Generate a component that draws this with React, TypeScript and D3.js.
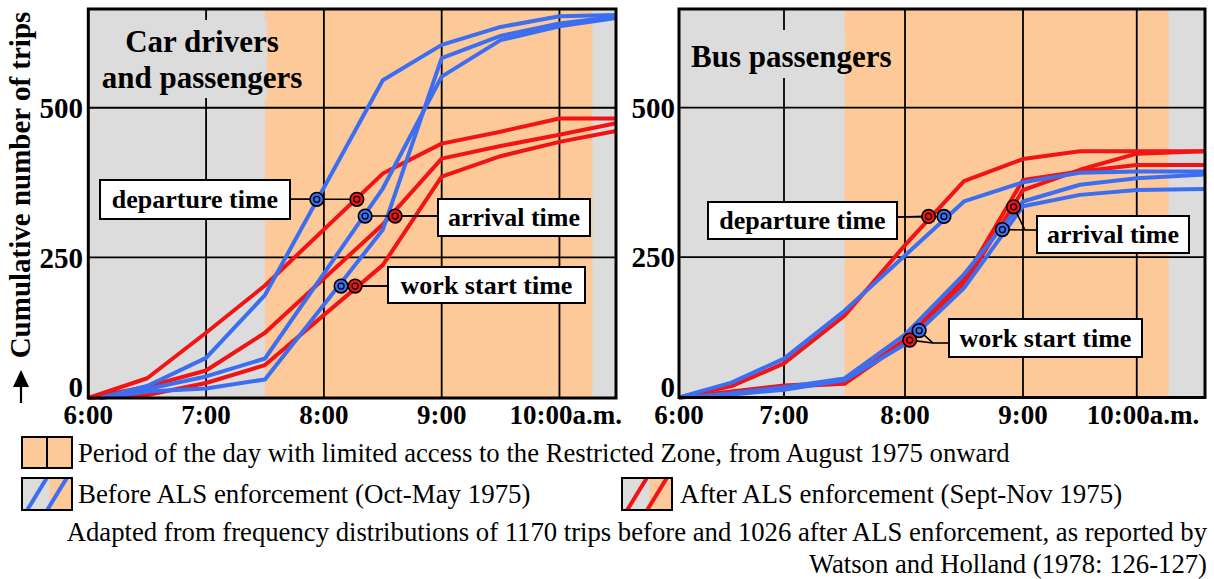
import React from "react";
import * as d3 from "d3";

type Pt = [number, number];

// Time of day in decimal hours, cumulative number of trips
const hourTicks = [6, 7, 8, 9, 10];
const hourTickLabels = ["6:00", "7:00", "8:00", "9:00", "10:00a.m."];
const tripTicks = [0, 250, 500];
const restrictedPeriod: [number, number] = [7.5, 10.28];

// Car drivers and passengers
const carBeforeDeparture: Pt[] = [[6.1, 0], [6.5, 35], [7, 82], [7.5, 187], [8.5, 546], [9, 605], [9.5, 635], [10, 653], [10.48, 655]];
const carBeforeArrival: Pt[] = [[6.1, 0], [6.5, 30], [7, 51], [7.5, 81], [8.5, 365], [9, 552], [9.5, 613], [10, 636], [10.48, 650]];
const carBeforeWork: Pt[] = [[6.1, 0], [6.5, 26], [7, 31], [7.5, 46], [8.5, 296], [9, 583], [9.5, 620], [10, 641], [10.48, 652]];
const carAfterDeparture: Pt[] = [[6, 0], [6.5, 48], [7, 124], [7.5, 203], [8.5, 390], [9, 440], [9.5, 460], [10, 482], [10.48, 482]];
const carAfterArrival: Pt[] = [[6, 0], [6.5, 34], [7, 61], [7.5, 124], [8.5, 305], [9, 415], [9.5, 436], [10, 455], [10.48, 474]];
const carAfterWork: Pt[] = [[6, 0], [6.5, 20], [7, 40], [7.5, 70], [8.5, 237], [9, 385], [9.5, 419], [10, 443], [10.48, 461]];

// Bus passengers
const busBeforeDeparture: Pt[] = [[6, 0], [6.5, 40], [7, 80], [7.5, 160], [8.5, 343], [9, 375], [9.5, 391], [10, 393], [10.6, 393]];
const busBeforeArrival: Pt[] = [[6.25, 18], [6.5, 22], [7, 32], [7.5, 47], [8, 120], [8.5, 221], [9, 343], [9.5, 371], [10, 382], [10.6, 388]];
const busBeforeWork: Pt[] = [[6, 0], [6.5, 20], [7, 28], [7.5, 44], [8, 104], [8.5, 198], [9, 335], [9.5, 354], [10, 362], [10.6, 364]];
const busAfterDeparture: Pt[] = [[6, 0], [6.5, 34], [7, 72], [7.5, 152], [8, 270], [8.5, 377], [9, 414], [9.5, 427], [10, 427], [10.6, 427]];
const busAfterArrival: Pt[] = [[6, 0], [6.5, 25], [7, 35], [7.5, 40], [8, 112], [8.5, 212], [9, 379], [9.5, 393], [10, 404], [10.6, 404]];
const busAfterWork: Pt[] = [[6, 0], [6.5, 22], [7, 33], [7.5, 38], [8, 108], [8.5, 204], [9, 362], [9.5, 396], [10, 423], [10.6, 427]];

// Points picked out on each curve: departure, arrival, work start
const markerLabels = ["departure time", "arrival time", "work start time"];
const carMarkersBefore: Pt[] = [[7.94, 347], [8.35, 319], [8.146, 202]];
const carMarkersAfter: Pt[] = [[8.28, 347], [8.605, 319], [8.265, 202]];
const busMarkersBefore: Pt[] = [[8.33, 318], [8.825, 296], [8.12, 127]];
const busMarkersAfter: Pt[] = [[8.2, 318], [8.92, 334], [8.04, 111]];

const legendPeriod = "Period of the day with limited access to the Restricted Zone, from August 1975 onward";
const legendBefore = "Before ALS enforcement (Oct-May 1975)";
const legendAfter = "After ALS enforcement (Sept-Nov 1975)";
const sourceLines = [
  "Adapted from frequency distributions of 1170 trips before and 1026 after ALS enforcement, as reported by",
  "Watson and Holland (1978: 126-127)",
];

// ---- styling ----
const FONT = "'Liberation Serif', 'Times New Roman', Times, serif";
const GRAY = "#dcdcdc";
const ORANGE = "#fdc998";
const BLUE = "#3c6ef2";
const RED = "#f21414";
const TRIP_DOMAIN: [number, number] = [15, 665];

type Box = { x: number; y: number; w: number; h: number };
type PanelCfg = {
  xDomain: number[];
  xRange: number[];
  top: number;
  bottom: number;
  title: string[];
  titleX: number;
  titleAnchor: "start" | "middle";
  titleBaselines: number[];
  titleBg: Box;
  boxes: Box[];
  elbows: [number, number][][];
  yLabelRight: number;
};

const carPanel: PanelCfg = {
  xDomain: [6, 10.48],
  xRange: [88.3, 616],
  top: 9,
  bottom: 398,
  title: ["Car drivers", "and passengers"],
  titleX: 202,
  titleAnchor: "middle",
  titleBaselines: [52, 88],
  titleBg: { x: 96, y: 20, w: 171, h: 78 },
  boxes: [
    { x: 100, y: 180, w: 190, h: 39 },
    { x: 438, y: 199, w: 152, h: 37 },
    { x: 388, y: 267, w: 197, h: 36 },
  ],
  elbows: [[[290, 199.3]], [[438, 216]], [[388, 286]]],
  yLabelRight: 83,
};

const busPanel: PanelCfg = {
  xDomain: [6, 7, 8, 9, 10.6],
  xRange: [679, 784, 905, 1023, 1205],
  top: 9,
  bottom: 397.5,
  title: ["Bus passengers"],
  titleX: 691,
  titleAnchor: "start",
  titleBaselines: [67],
  titleBg: { x: 688, y: 30, w: 157, h: 48 },
  boxes: [
    { x: 708, y: 202, w: 189, h: 37 },
    { x: 1037, y: 216, w: 152, h: 37 },
    { x: 949, y: 319, w: 193, h: 38 },
  ],
  elbows: [[[897, 217]], [[1025, 230], [1037, 230]], [[933, 343], [949, 343]]],
  yLabelRight: 675,
};

function Marker({ cx, cy, color }: { cx: number; cy: number; color: string }) {
  return (
    <g>
      <circle cx={cx} cy={cy} r={6.8} fill={color} stroke="#000" strokeWidth={1.6} />
      <circle cx={cx} cy={cy} r={3} fill={color} stroke="#000" strokeWidth={1.3} />
    </g>
  );
}

function Panel({
  cfg,
  before,
  after,
  markersBefore,
  markersAfter,
}: {
  cfg: PanelCfg;
  before: Pt[][];
  after: Pt[][];
  markersBefore: Pt[];
  markersAfter: Pt[];
}) {
  const x = d3.scaleLinear().domain(cfg.xDomain).range(cfg.xRange);
  const y = d3.scaleLinear().domain(TRIP_DOMAIN).range([cfg.bottom, cfg.top]).clamp(true);
  const line = d3
    .line<Pt>()
    .x((d) => x(d[0]))
    .y((d) => y(d[1]));
  const x0 = cfg.xRange[0];
  const x1 = cfg.xRange[cfg.xRange.length - 1];
  const w = x1 - x0;
  const h = cfg.bottom - cfg.top;

  return (
    <g>
      <rect x={x0} y={cfg.top} width={w} height={h} fill={GRAY} />
      <rect
        x={x(restrictedPeriod[0])}
        y={cfg.top}
        width={x(restrictedPeriod[1]) - x(restrictedPeriod[0])}
        height={h}
        fill={ORANGE}
      />
      {hourTicks
        .filter((t) => t > cfg.xDomain[0])
        .map((t) => (
          <line key={"gx" + t} x1={x(t)} x2={x(t)} y1={cfg.top} y2={cfg.bottom} stroke="#000" strokeWidth={1.8} />
        ))}
      {tripTicks
        .filter((v) => v > 0)
        .map((v) => (
          <line key={"gy" + v} x1={x0} x2={x1} y1={y(v)} y2={y(v)} stroke="#000" strokeWidth={1.8} />
        ))}
      <rect x={cfg.titleBg.x} y={cfg.titleBg.y} width={cfg.titleBg.w} height={cfg.titleBg.h} fill={GRAY} />
      {cfg.title.map((t, i) => (
        <text
          key={t}
          x={cfg.titleX}
          y={cfg.titleBaselines[i]}
          textAnchor={cfg.titleAnchor}
          fontFamily={FONT}
          fontWeight="bold"
          fontSize={31}
        >
          {t}
        </text>
      ))}

      {after.map((s, i) => (
        <path key={"a" + i} d={line(s) || ""} fill="none" stroke={RED} strokeWidth={4} strokeLinejoin="round" />
      ))}
      {before.map((s, i) => (
        <path key={"b" + i} d={line(s) || ""} fill="none" stroke={BLUE} strokeWidth={4} strokeLinejoin="round" />
      ))}

      {/* connectors from the picked points to their labels */}
      {markerLabels.map((_, i) => {
        const pts = cfg.elbows[i];
        const e = pts[0];
        const segs: JSX.Element[] = [];
        [markersBefore[i], markersAfter[i]].forEach((m, j) => {
          segs.push(
            <line key={"c" + i + j} x1={x(m[0])} y1={y(m[1])} x2={e[0]} y2={e[1]} stroke="#000" strokeWidth={1.6} />
          );
        });
        if (pts.length > 1) {
          segs.push(
            <line key={"e" + i} x1={e[0]} y1={e[1]} x2={pts[1][0]} y2={pts[1][1]} stroke="#000" strokeWidth={1.6} />
          );
        }
        return <g key={"conn" + i}>{segs}</g>;
      })}
      {markersAfter.map((m, i) => (
        <Marker key={"ma" + i} cx={x(m[0])} cy={y(m[1])} color={RED} />
      ))}
      {markersBefore.map((m, i) => (
        <Marker key={"mb" + i} cx={x(m[0])} cy={y(m[1])} color={BLUE} />
      ))}

      {cfg.boxes.map((b, i) => (
        <g key={"box" + i}>
          <rect x={b.x} y={b.y} width={b.w} height={b.h} fill="#fff" stroke="#000" strokeWidth={2} />
          <text
            x={b.x + b.w / 2}
            y={b.y + b.h / 2}
            dy="0.33em"
            textAnchor="middle"
            fontFamily={FONT}
            fontWeight="bold"
            fontSize={26}
          >
            {markerLabels[i]}
          </text>
        </g>
      ))}

      <rect x={x0} y={cfg.top} width={w} height={h} fill="none" stroke="#000" strokeWidth={3} />

      {tripTicks.map((v) => (
        <text
          key={"yl" + v}
          x={cfg.yLabelRight}
          y={Math.min(y(v), cfg.bottom - 11)}
          dy="0.35em"
          textAnchor="end"
          fontFamily={FONT}
          fontWeight="bold"
          fontSize={29}
        >
          {v}
        </text>
      ))}
      {hourTicks.map((t, i) => {
        const last = i === hourTicks.length - 1;
        return (
          <text
            key={"xl" + t}
            x={last ? x(t) - 50 : x(t)}
            y={424}
            textAnchor={last ? "start" : "middle"}
            fontFamily={FONT}
            fontWeight="bold"
            fontSize={27}
          >
            {hourTickLabels[i]}
          </text>
        );
      })}
    </g>
  );
}

function StripedSwatch({ x, y, color, id }: { x: number; y: number; color: string; id: string }) {
  const w = 50;
  const h = 32;
  return (
    <g>
      <defs>
        <clipPath id={id}>
          <rect x={x} y={y} width={w} height={h} />
        </clipPath>
      </defs>
      <rect x={x} y={y} width={w} height={h} fill={GRAY} />
      <rect x={x + w * 0.55} y={y} width={w * 0.45} height={h} fill={ORANGE} />
      <g clipPath={`url(#${id})`}>
        <line x1={x + 4} y1={y + h + 2} x2={x + 26} y2={y - 2} stroke={color} strokeWidth={4} />
        <line x1={x + 24} y1={y + h + 2} x2={x + 46} y2={y - 2} stroke={color} strokeWidth={4} />
      </g>
      <rect x={x} y={y} width={w} height={h} fill="none" stroke="#000" strokeWidth={2} />
    </g>
  );
}

export default function App() {
  return (
    <svg
      width={1214}
      height={579}
      viewBox="0 0 1214 579"
      style={{ position: "absolute", left: 0, top: 0, background: "#fff" }}
    >
      <Panel
        cfg={carPanel}
        before={[carBeforeDeparture, carBeforeArrival, carBeforeWork]}
        after={[carAfterDeparture, carAfterArrival, carAfterWork]}
        markersBefore={carMarkersBefore}
        markersAfter={carMarkersAfter}
      />
      <Panel
        cfg={busPanel}
        before={[busBeforeDeparture, busBeforeArrival, busBeforeWork]}
        after={[busAfterDeparture, busAfterArrival, busAfterWork]}
        markersBefore={busMarkersBefore}
        markersAfter={busMarkersAfter}
      />

      {/* y axis title with arrow */}
      <text
        transform="translate(30,185) rotate(-90)"
        textAnchor="middle"
        fontFamily={FONT}
        fontWeight="bold"
        fontSize={29}
      >
        Cumulative number of trips
      </text>
      <path d="M21,370 L29,387 L13,387 Z" fill="#000" />
      <line x1={21} x2={21} y1={386} y2={403} stroke="#000" strokeWidth={2.2} />

      {/* legend */}
      <rect x={22} y={437} width={50} height={31} fill={ORANGE} stroke="#000" strokeWidth={2} />
      <line x1={47} x2={47} y1={437} y2={468} stroke="#000" strokeWidth={2} />
      <text x={78} y={462} fontFamily={FONT} fontSize={26.7}>
        {legendPeriod}
      </text>
      <StripedSwatch x={22} y={478} color={BLUE} id="swBefore" />
      <text x={78} y={503} fontFamily={FONT} fontSize={26.9}>
        {legendBefore}
      </text>
      <StripedSwatch x={622} y={478} color={RED} id="swAfter" />
      <text x={680} y={503} fontFamily={FONT} fontSize={26.9}>
        {legendAfter}
      </text>
      {sourceLines.map((s, i) => (
        <text key={i} x={1207} y={541 + i * 32} textAnchor="end" fontFamily={FONT} fontSize={26.7}>
          {s}
        </text>
      ))}
    </svg>
  );
}
